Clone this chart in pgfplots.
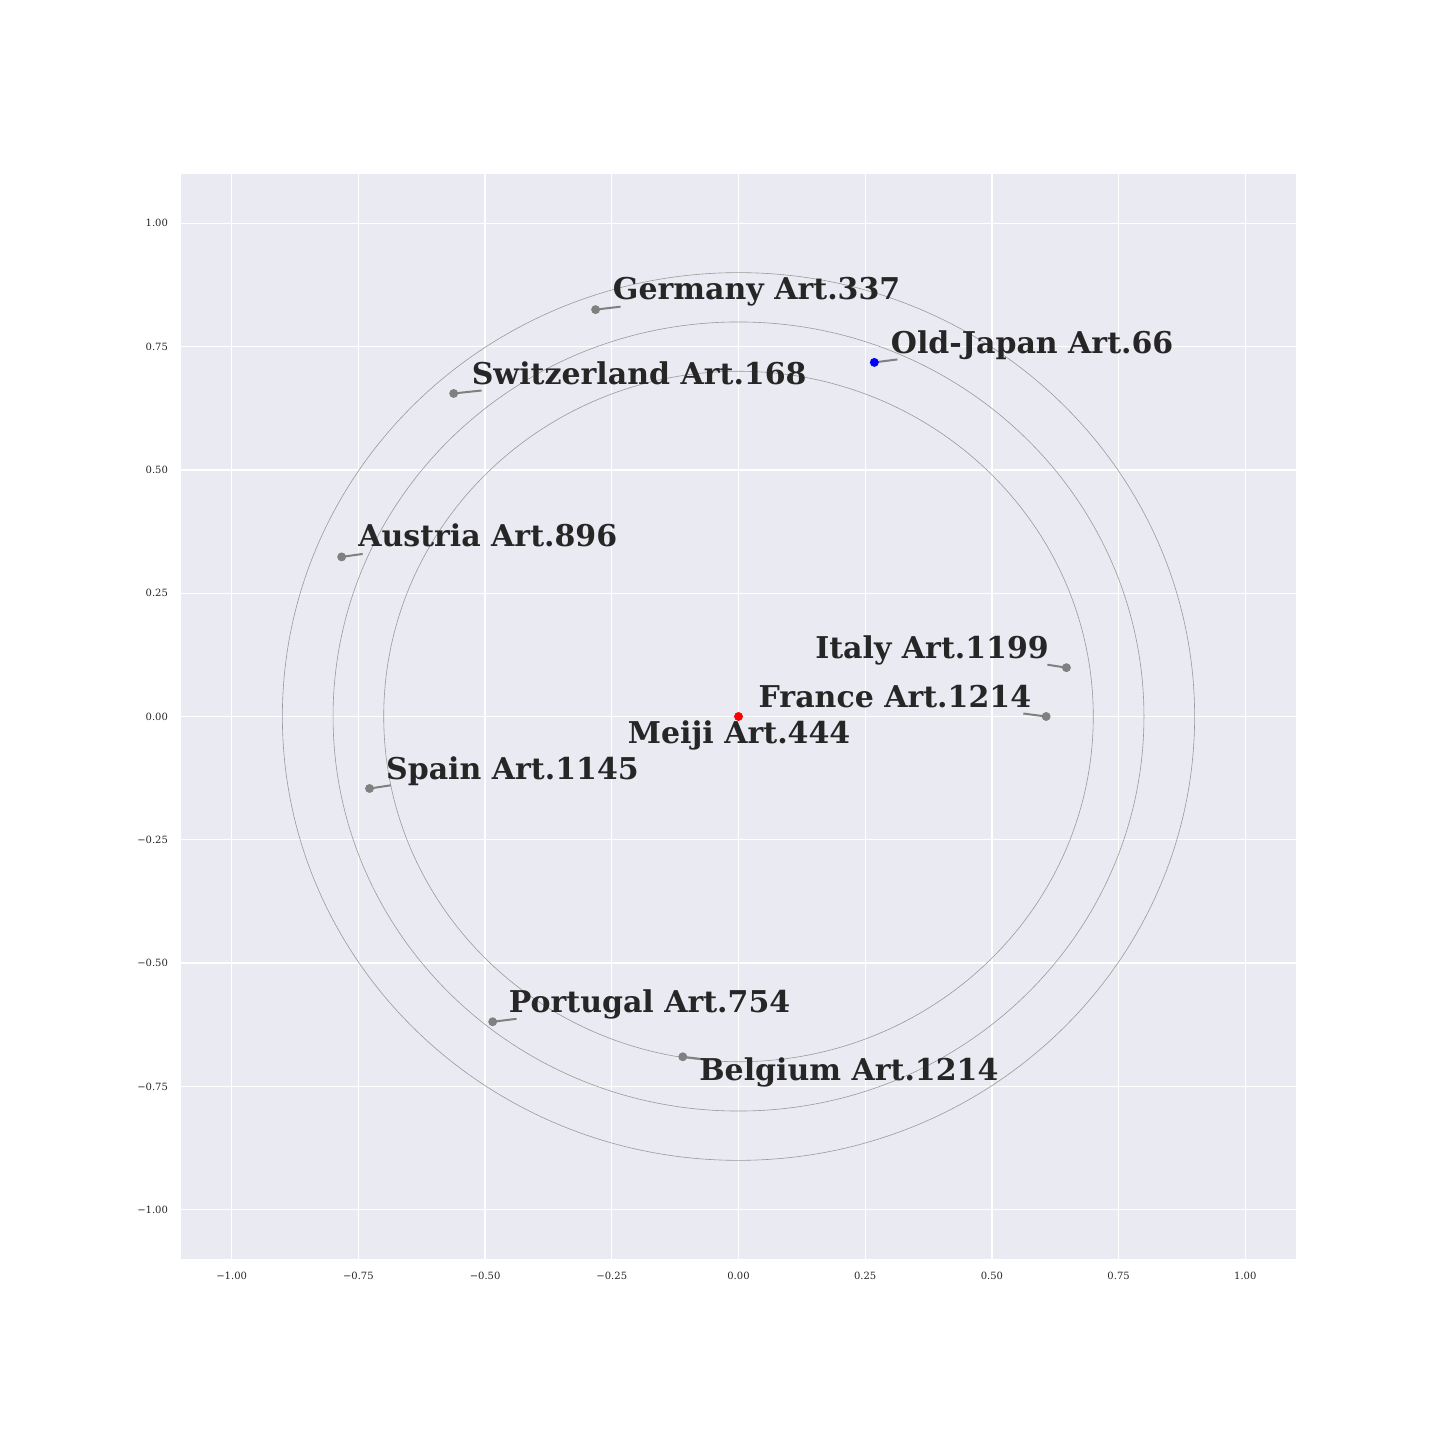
\documentclass[border=0pt]{standalone}
\usepackage{fontspec}
\setmainfont{DejaVu Serif}
\usepackage{pgfplots}
\pgfplotsset{compat=1.18}
\definecolor{bgc}{RGB}{234,234,242}
\definecolor{txt}{RGB}{38,38,38}
\definecolor{ln}{RGB}{128,128,128}
\begin{document}
\begin{tikzpicture}
\begin{axis}[
  at={(0,0)}, anchor=south west,
  scale only axis, width=557.5pt, height=542.5pt,
  xmin=-1.1, xmax=1.1, ymin=-1.1, ymax=1.1,
  axis background/.style={fill=bgc},
  axis line style={draw=none},
  major tick length=0pt,
  grid=major, grid style={white, line width=0.6pt},
  xtick={-1,-0.75,-0.5,-0.25,0,0.25,0.5,0.75,1},
  ytick={-1,-0.75,-0.5,-0.25,0,0.25,0.5,0.75,1},
  xticklabels={−1.00,−0.75,−0.50,−0.25,0.00,0.25,0.50,0.75,1.00},
  yticklabels={−1.00,−0.75,−0.50,−0.25,0.00,0.25,0.50,0.75,1.00},
  tick label style={font=\fontsize{5}{6}\selectfont, text=txt},
  xticklabel style={yshift=-3pt},
  yticklabel style={xshift=-3pt},
  clip=false,
]
\draw[ln!80, line width=0.3pt] (axis cs:0,0) ellipse [x radius=0.7, y radius=0.7];
\draw[ln!80, line width=0.3pt] (axis cs:0,0) ellipse [x radius=0.8, y radius=0.8];
\draw[ln!80, line width=0.3pt] (axis cs:0,0) ellipse [x radius=0.9, y radius=0.9];
% connector lines
\addplot[ln, line width=1pt, no marks] coordinates {(-0.282,0.825) (-0.2327,0.831)};
\addplot[ln, line width=1pt, no marks] coordinates {(0.268,0.718) (0.3136,0.724)};
\addplot[ln, line width=1pt, no marks] coordinates {(-0.562,0.655) (-0.507,0.661)};
\addplot[ln, line width=1pt, no marks] coordinates {(-0.783,0.3236) (-0.7416,0.3296)};
\addplot[ln, line width=1pt, no marks] coordinates {(0.647,0.099) (0.6095,0.105)};
\addplot[ln, line width=1pt, no marks] coordinates {(0.607,0) (0.562,0.006)};
\addplot[ln, line width=1pt, no marks] coordinates {(-0.728,-0.146) (-0.686,-0.1395)};
\addplot[ln, line width=1pt, no marks] coordinates {(-0.485,-0.619) (-0.438,-0.613)};
\addplot[ln, line width=1pt, no marks] coordinates {(-0.110,-0.690) (-0.061,-0.696)};
% points
\addplot[only marks, mark=*, mark size=2pt, ln, mark options={draw=ln, fill=ln}] coordinates {
 (-0.282,0.825) (-0.562,0.655) (-0.783,0.3236) (0.647,0.099) (0.607,0)
 (-0.728,-0.146) (-0.485,-0.619) (-0.110,-0.690)};
\addplot[only marks, mark=*, mark size=2pt, mark options={draw=blue, fill=blue}] coordinates {(0.268,0.718)};
\addplot[only marks, mark=*, mark size=2pt, mark options={draw=red, fill=red}] coordinates {(0,0)};
% labels
\tikzset{lab/.style={anchor=base west, inner sep=0pt, text=txt, font=\bfseries\fontsize{15}{18}\selectfont}}
\node[lab] at (axis cs:-0.2485,0.845) {Germany Art.337};
\node[lab] at (axis cs:0.300,0.736) {Old-Japan Art.66};
\node[lab] at (axis cs:-0.527,0.673) {Switzerland Art.168};
\node[lab] at (axis cs:-0.751,0.344) {Austria Art.896};
\node[lab, anchor=base east] at (axis cs:0.613,0.117) {Italy Art.1199};
\node[lab] at (axis cs:0.039,0.018) {France Art.1214};
\node[lab] at (axis cs:-0.219,-0.055) {Meiji Art.444};
\node[lab] at (axis cs:-0.696,-0.127) {Spain Art.1145};
\node[lab] at (axis cs:-0.454,-0.601) {Portugal Art.754};
\node[lab] at (axis cs:-0.078,-0.738) {Belgium Art.1214};
\end{axis}
\path (-90.5pt,-90.5pt) rectangle (629.5pt,629.5pt);
\end{tikzpicture}
\end{document}
